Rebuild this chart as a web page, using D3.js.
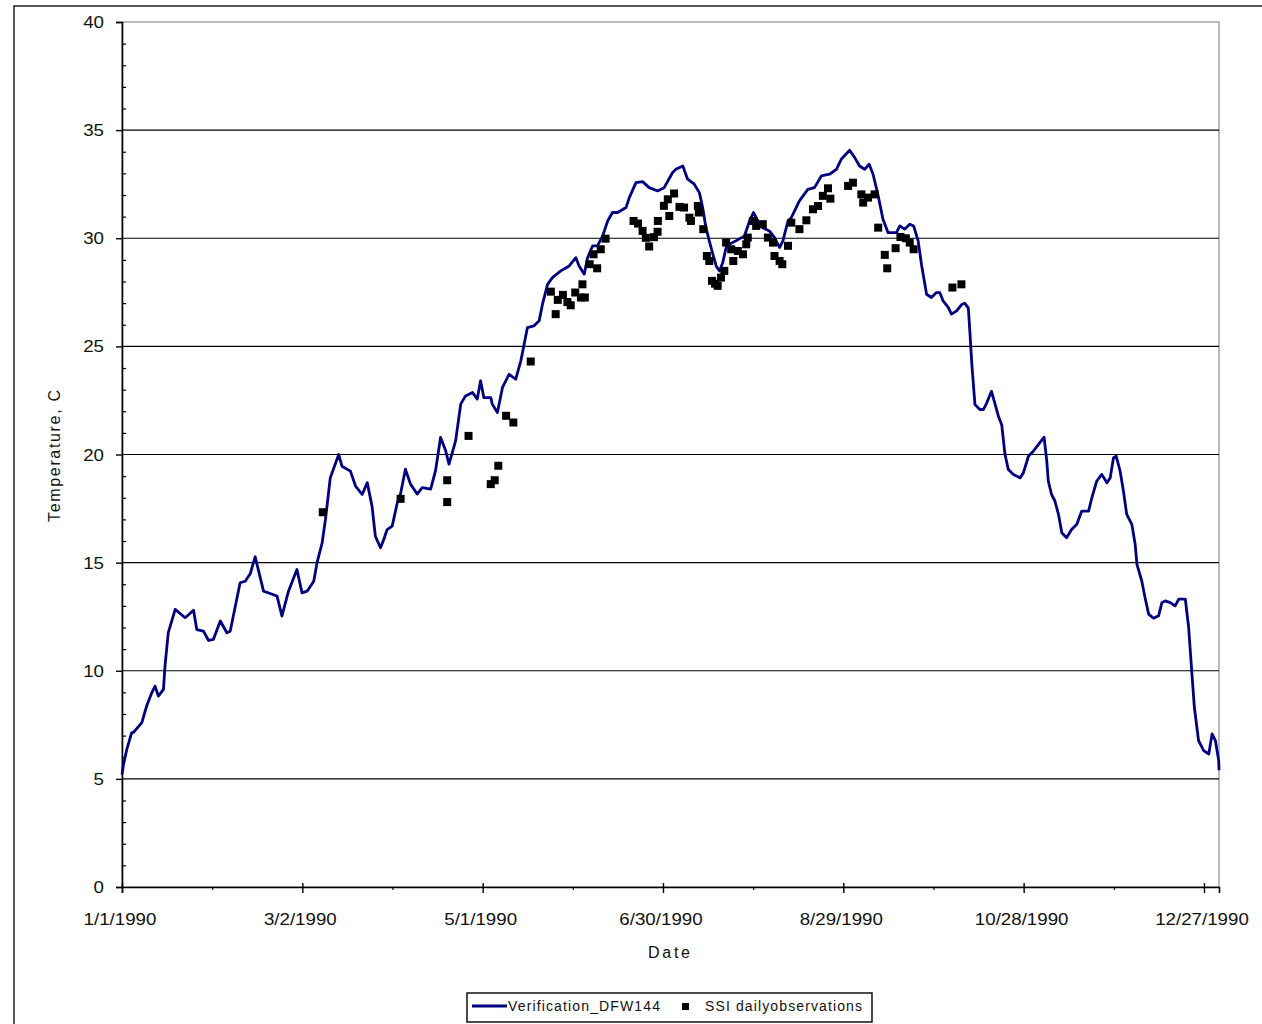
<!DOCTYPE html>
<html>
<head>
<meta charset="utf-8">
<script src="https://cdn.jsdelivr.net/npm/d3@7"></script>
<style>
  body { margin: 0; background: #fff; }
  svg { display: block; }
  text { font-family: Arial, "Liberation Sans", sans-serif; fill: #111; }
</style>
</head>
<body>
<svg id="chart" width="1262" height="1024"></svg>
<script>
// Modelled daily water temperature, [day of 1990, °C]
const verificationSeries = [
  [0,5.2],[0.5,5.67],[1.6,6.36],[3.2,7.13],[3.9,7.16],[6.6,7.6],[8.2,8.37],[9.9,8.98],[11,9.29],[12.1,8.83],
  [13.8,9.14],[14.3,10.2],[15.4,11.76],[17.7,12.84],[21,12.45],[23.8,12.8],[24.9,11.9],[27.1,11.83],[28.8,11.4],
  [30.4,11.45],[32.7,12.3],[34.9,11.76],[36,11.83],[39.3,14.07],[41,14.14],[42.7,14.5],[44.3,15.27],[47.1,13.68],
  [49.3,13.57],[51.6,13.45],[53.2,12.53],[55.4,13.68],[58.2,14.68],[59.9,13.6],[61.6,13.68],[63.8,14.14],[64.9,15.0],
  [66.6,15.92],[67.7,17.0],[69.3,18.92],[72.1,20.0],[73.2,19.46],[76,19.23],[77.7,18.54],[79.9,18.15],[81.6,18.7],
  [83.2,17.6],[84.3,16.22],[86,15.69],[87.1,16.07],[88.2,16.53],[89.9,16.69],[91.6,17.77],[92.7,18.2],
  [94.3,19.32],[96,18.63],[98.2,18.17],[99.9,18.47],[102.7,18.4],[104.3,19.24],[106,20.79],[107.7,20.17],
  [108.8,19.55],[111,20.63],[112.7,22.33],[114.3,22.71],[116.6,22.87],[118.2,22.56],[119.3,23.41],[120.4,22.63],
  [122.7,22.63],[123.2,22.33],[124.9,21.94],[126.6,23.1],[128.8,23.71],[131,23.48],[132.7,24.33],[133.8,25.1],
  [134.9,25.87],[137.1,25.95],[138.8,26.18],[139.9,26.95],[141.6,27.87],[143.2,28.18],[146,28.49],[148.8,28.72],
  [151,29.1],[152.1,28.72],[153.8,28.34],[154.9,29.1],[156.6,29.65],[158.2,29.65],[159.9,30.1],[161.6,30.8],
  [163.2,31.19],[164.9,31.19],[167.7,31.42],[168.8,31.88],[171,32.57],[173.2,32.62],[175.4,32.34],[178.2,32.19],
  [180.4,32.34],[183.2,33.04],[184.3,33.19],[186.6,33.34],[188.2,32.73],[190.4,32.5],[192.1,32.11],[193.2,31.42],
  [194.3,30.49],[195.4,29.88],[196.6,29.26],[197.7,28.72],[198.8,28.49],[199.9,28.88],[201,29.57],[202.1,29.72],
  [204.3,29.88],[207.1,30.11],[208.8,30.8],[210.1,31.19],[211.6,30.8],[213.2,30.49],[215.4,30.34],[217.1,30.03],
  [218.8,29.57],[219.9,29.88],[221.6,30.8],[222.7,30.95],[225.4,31.73],[228.2,32.26],[230.4,32.34],[232.7,32.88],
  [235.4,32.96],[237.7,33.19],[239.3,33.65],[242.1,34.07],[243.8,33.73],[245.4,33.34],[247.1,33.19],[248.6,33.42],
  [249.9,32.96],[251.6,31.96],[253.2,30.88],[254.9,30.26],[257.7,30.26],[258.8,30.57],[260.4,30.42],[262.1,30.65],
  [263.4,30.57],[264.9,29.88],[266,28.8],[267.7,27.41],[269.3,27.26],[271,27.49],[272.1,27.49],[273.2,27.1],
  [274.9,26.8],[276,26.49],[277.7,26.64],[279.3,26.92],[280.4,27.0],[281.6,26.77],[282.1,25.69],[282.7,24.31],
  [283.2,23.38],[283.8,22.31],[285.4,22.08],[286.6,22.08],[287.7,22.38],[289.3,22.92],[290.4,22.38],[291.6,21.77],
  [292.7,21.38],[293.8,20.0],[294.9,19.31],[296.6,19.08],[298.8,18.92],[299.9,19.15],[301.6,19.92],[303.2,20.15],
  [304.9,20.46],[306.8,20.8],[307.7,19.69],[308.2,18.77],[309.3,18.15],[310.4,17.85],[311.6,17.23],[312.7,16.38],
  [314.3,16.15],[316,16.54],[317.7,16.77],[319.3,17.38],[321.6,17.38],[322.7,18.0],[324.3,18.77],[326,19.08],
  [327.7,18.69],[328.8,18.92],[329.9,19.85],[330.8,19.92],[332.1,19.23],[333.2,18.31],[334.3,17.23],[336,16.77],
  [337.1,15.85],[337.7,14.92],[339.3,14.15],[340.4,13.38],[341.6,12.62],[343.2,12.43],[344.9,12.54],[346,13.15],
  [347.1,13.23],[348.8,13.15],[350.4,13.0],[351.6,13.31],[353.8,13.31],[354.9,12.0],[356,9.85],[356.8,8.31],
  [358.2,6.77],[359.9,6.31],[361.6,6.15],[362.7,7.08],[363.8,6.77],[364.9,5.85],[365,5.4]
];

// Observed daily temperatures, [day of 1990, °C]
const observationSeries = [
  [66.8,17.33],[92.7,17.95],[108.2,18.81],[108.2,17.8],[115.3,20.86],[122.7,18.63],[124,18.81],[125.2,19.48],
  [127.8,21.79],[130.2,21.48],[136,24.3],[142.7,27.53],[144.3,26.49],[145,27.15],[146.7,27.38],[148.2,27.05],
  [149.3,26.9],[150.8,27.49],[152.7,27.26],[153.2,27.87],[154,27.26],[155.6,28.8],[156.9,29.26],[158.1,28.61],
  [159.3,29.49],[160.9,29.98],[170.2,30.8],[171.7,30.68],[173.2,30.34],[174.3,30.02],[175.4,29.62],[177,30.05],
  [178.2,30.3],[178.3,30.8],[180.3,31.5],[181.6,31.8],[182.1,31.03],[183.7,32.07],[185.5,31.45],[187,31.42],
  [188.8,30.95],[189.3,30.8],[191.6,31.49],[191.9,31.19],[193.4,30.42],[194.6,29.18],[195.4,28.95],[196.3,28.03],
  [197.3,27.9],[198.2,27.8],[199.3,28.18],[200.4,28.49],[201,29.8],[202.7,29.49],[203.4,28.95],[204.9,29.41],
  [206.6,29.26],[207.7,29.72],[208.2,30.03],[209.9,30.8],[211,30.57],[213.2,30.65],[214.9,30.03],[216.6,29.8],
  [217.1,29.18],[218.8,28.95],[219.7,28.8],[221.6,29.65],[222.7,30.72],[225.4,30.42],[227.7,30.83],[229.9,31.34],
  [231.6,31.49],[233.2,31.96],[234.9,32.31],[235.7,31.83],[241.6,32.42],[243.2,32.57],[246,32.03],[246.6,31.65],
  [248.2,31.88],[250.4,32.03],[251.6,30.49],[253.8,29.23],[254.6,28.61],[257.4,29.54],[259,30.06],[260.8,30.0],
  [262.1,29.8],[263.4,29.49],[276.3,27.72],[279.3,27.87]
];

const yTickValues = [0, 5, 10, 15, 20, 25, 30, 35, 40];
const xTickDays = [0, 60, 120, 180, 240, 300, 360];
const xTickLabels = ["1/1/1990", "3/2/1990", "5/1/1990", "6/30/1990", "8/29/1990", "10/28/1990", "12/27/1990"];
const seriesNames = ["Verification_DFW144", "SSI dailyobservations"];
const axisTitles = { x: "Date", y: "Temperature, C" };

const svg = d3.select("#chart");
const plot = { left: 122, right: 1219, top: 22, bottom: 887 };
const lineColor = "#000080";
const textStretch = 1.17;

const x = d3.scaleLinear().domain([0, 365]).range([plot.left, plot.right]);
const y = d3.scaleLinear().domain([0, 40]).range([plot.bottom, plot.top]);

// outer chart frame
svg.append("rect")
  .attr("x", 14).attr("y", 6).attr("width", 1400).attr("height", 1200)
  .attr("fill", "none").attr("stroke", "#222").attr("stroke-width", 1.5);

// plot area border (top/right in grey)
svg.append("rect")
  .attr("x", plot.left).attr("y", plot.top)
  .attr("width", plot.right - plot.left).attr("height", plot.bottom - plot.top)
  .attr("fill", "none").attr("stroke", "#8c8c8c").attr("stroke-width", 1.2);

// horizontal gridlines
svg.append("g").selectAll("line")
  .data(yTickValues.filter(v => v > 0 && v < 40))
  .join("line")
  .attr("x1", plot.left).attr("x2", plot.right)
  .attr("y1", d => y(d)).attr("y2", d => y(d))
  .attr("stroke", "#000").attr("stroke-width", 1.2);

// y axis: major ticks outward, minor ticks inward
const yAxis = svg.append("g").attr("transform", `translate(${plot.left},0)`)
  .call(d3.axisLeft(y).tickValues(yTickValues).tickSize(6).tickFormat(""));
yAxis.select(".domain").attr("stroke", "#000").attr("stroke-width", 1.6);
yAxis.selectAll(".tick line").attr("stroke", "#000").attr("stroke-width", 1.4);
const yMinor = d3.range(1, 40).filter(v => v % 5 !== 0);
svg.append("g").attr("transform", `translate(${plot.left},0)`)
  .call(d3.axisRight(y).tickValues(yMinor).tickSize(4).tickFormat(""))
  .call(g => g.select(".domain").remove())
  .selectAll(".tick line").attr("stroke", "#000").attr("stroke-width", 1.2);

// y tick labels
svg.append("g").selectAll("g")
  .data(yTickValues)
  .join("g")
  .attr("transform", d => `translate(104,${y(d) + 6}) scale(${textStretch},1)`)
  .append("text")
  .attr("text-anchor", "end")
  .attr("font-size", 16)
  .text(d => d);

// x axis
const xAxis = svg.append("g").attr("transform", `translate(0,${plot.bottom})`)
  .call(d3.axisBottom(x).tickValues(xTickDays).tickSize(6).tickFormat(""));
xAxis.select(".domain").attr("stroke", "#000").attr("stroke-width", 1.6);
xAxis.selectAll(".tick line").attr("stroke", "#000").attr("stroke-width", 1.4).attr("y1", -4);
svg.append("g").attr("transform", `translate(0,${plot.bottom})`)
  .call(d3.axisBottom(x).tickValues(xTickDays.map(d => d + 30).filter(d => d < 365)).tickSize(3).tickFormat(""))
  .call(g => g.select(".domain").remove())
  .selectAll(".tick line").attr("stroke", "#000").attr("stroke-width", 1.2);

svg.append("g").selectAll("g")
  .data(xTickDays)
  .join("g")
  .attr("transform", d => `translate(${x(d) - 2},925) scale(${textStretch},1)`)
  .append("text")
  .attr("text-anchor", "middle")
  .attr("font-size", 16)
  .text((d, i) => xTickLabels[i]);

// axis titles
svg.append("text")
  .attr("x", 669).attr("y", 958)
  .attr("text-anchor", "middle").attr("font-size", 16)
  .attr("textLength", 42).attr("lengthAdjust", "spacing")
  .text(axisTitles.x);

svg.append("text")
  .attr("transform", "translate(60,456) rotate(-90)")
  .attr("text-anchor", "middle").attr("font-size", 16)
  .attr("textLength", 132).attr("lengthAdjust", "spacing")
  .text(axisTitles.y);

// modelled series
const line = d3.line().x(d => x(d[0])).y(d => y(d[1]));
svg.append("path")
  .datum(verificationSeries)
  .attr("d", line)
  .attr("fill", "none")
  .attr("stroke", lineColor)
  .attr("stroke-width", 2.8)
  .attr("stroke-linejoin", "round");

// observations as square markers
const markerSize = 8;
svg.append("g").selectAll("rect")
  .data(observationSeries)
  .join("rect")
  .attr("x", d => x(d[0]) - markerSize / 2)
  .attr("y", d => y(d[1]) - markerSize / 2)
  .attr("width", markerSize).attr("height", markerSize)
  .attr("fill", "#000");

// legend
const legend = svg.append("g");
legend.append("rect")
  .attr("x", 467).attr("y", 993).attr("width", 405).attr("height", 29)
  .attr("fill", "#fff").attr("stroke", "#000").attr("stroke-width", 1.4);
legend.append("line")
  .attr("x1", 472).attr("x2", 507).attr("y1", 1006).attr("y2", 1006)
  .attr("stroke", lineColor).attr("stroke-width", 2.8);
legend.append("text")
  .attr("x", 508).attr("y", 1011).attr("font-size", 14)
  .attr("textLength", 152).attr("lengthAdjust", "spacing")
  .text(seriesNames[0]);
legend.append("rect")
  .attr("x", 682).attr("y", 1003).attr("width", 7).attr("height", 7)
  .attr("fill", "#000");
legend.append("text")
  .attr("x", 705).attr("y", 1011).attr("font-size", 14)
  .attr("textLength", 157).attr("lengthAdjust", "spacing")
  .text(seriesNames[1]);
</script>
</body>
</html>
